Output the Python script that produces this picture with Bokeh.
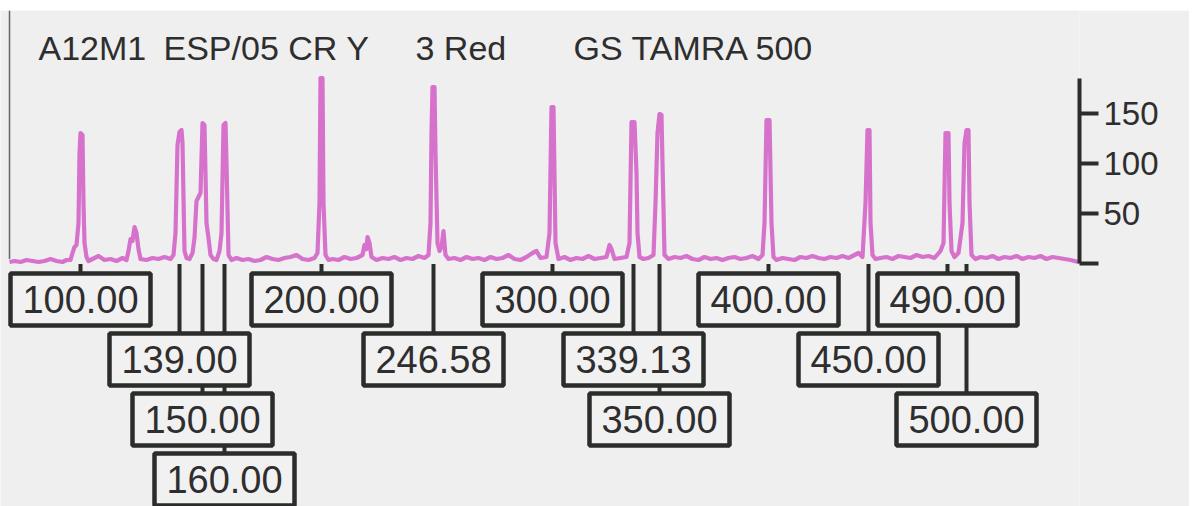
from bokeh.plotting import figure
from bokeh.models import Range1d, LinearAxis, FixedTicker, Spacer
from bokeh.layouts import column
from bokeh.core.properties import value
from bokeh.embed import file_html
from bokeh.resources import INLINE

# Red-channel trace: scan position and signal (RFU)
trace_scan = [
    9, 14, 20, 26, 32, 38, 44, 50, 56, 62, 66,
    70, 72, 74, 76, 78, 79, 80, 82, 83, 84, 86, 88,
    92, 98, 104, 110, 116, 122, 126,
    128, 130, 132, 134, 136, 138, 140,
    146, 152, 158, 164, 170, 173,
    175, 177, 179, 181, 182, 184, 186, 189, 192,
    194, 196, 198, 200, 202, 204, 206, 208, 210, 213, 216, 219,
    221, 223, 225, 226, 228, 231,
    236, 242, 248, 254, 260, 266, 272, 278, 284, 290, 296, 302, 308, 314,
    317, 319, 320, 322, 323, 325, 328,
    332, 338, 344, 350, 356, 362, 364, 366, 367, 369, 371, 376, 382, 388,
    394, 400, 406, 412, 418, 424, 428,
    430, 431, 432, 434, 435, 437, 439, 441, 443, 445, 448,
    454, 460, 466, 472, 478, 484, 490, 496, 502, 508, 514, 520, 526, 532,
    536, 540, 546,
    549, 551, 553, 555, 558,
    564, 570, 576, 582, 588, 594, 600, 606, 609, 611, 614, 620, 626,
    629, 631, 634, 636, 637, 639, 643, 648, 653,
    655, 657, 659, 661, 662, 664, 668,
    674, 680, 686, 692, 698, 704, 710, 716, 722, 728, 734, 740, 746, 752,
    758, 762,
    764, 766, 769, 771, 773, 776,
    782, 788, 794, 800, 806, 812, 818, 824, 830, 836, 842, 848, 854, 858, 862,
    865, 867, 869, 870, 872, 875,
    880, 886, 892, 898, 904, 910, 916, 922, 928, 934, 940,
    943, 945, 948, 949, 951, 954, 958,
    962, 964, 966, 968, 969, 971, 975,
    980, 986, 992, 998, 1004, 1010, 1016, 1022, 1028, 1034, 1040, 1046,
    1052, 1058, 1064, 1070, 1078,
]
trace_rfu = [
    1, 2, 1, 3, 2, 1, 2, 4, 2, 1, 3,
    3, 10, 16, 18, 40, 110, 130, 128, 60, 20, 6, 2,
    4, 7, 3, 4, 2, 5, 3,
    12, 24, 22, 36, 30, 14, 4,
    3, 5, 4, 6, 4, 8,
    30, 118, 131, 133, 120, 12, 5, 4, 10,
    25, 62, 66, 70, 140, 138, 40, 25, 8, 4, 3, 12,
    30, 138, 140, 100, 8, 3,
    5, 3, 4, 2, 3, 6, 4, 3, 5, 6, 8, 4, 3, 5,
    10, 60, 185, 185, 60, 8, 3,
    4, 3, 6, 4, 5, 8, 18, 14, 26, 20, 6, 3, 5, 4,
    6, 3, 5, 4, 7, 5, 8,
    40, 130, 176, 176, 110, 20, 12, 16, 32, 8, 4,
    5, 3, 6, 4, 5, 3, 6, 4, 5, 8, 4, 3, 6, 10,
    12, 5, 6,
    30, 156, 156, 20, 4,
    6, 3, 5, 4, 7, 4, 5, 6, 18, 14, 4, 5, 6,
    20, 141, 141, 90, 30, 6, 4, 5, 8,
    60, 130, 149, 148, 100, 8, 4,
    6, 5, 7, 4, 3, 6, 4, 5, 3, 5, 6, 4, 5, 7,
    4, 8,
    40, 143, 143, 40, 6, 3,
    5, 4, 3, 6, 5, 7, 5, 4, 6, 5, 7, 5, 8, 10, 6,
    60, 133, 133, 40, 8, 4,
    5, 6, 4, 7, 6, 5, 8, 6, 7, 5, 12,
    20, 130, 130, 60, 12, 6, 10,
    40, 120, 133, 133, 60, 8, 4,
    6, 5, 7, 4, 6, 5, 7, 4, 6, 5, 7, 4,
    6, 5, 4, 3, 1,
]

# GS TAMRA 500 size-standard calls and the scan position of each called peak
size_labels = ["100.00", "139.00", "150.00", "160.00", "200.00", "246.58",
               "300.00", "339.13", "350.00", "400.00", "450.00", "490.00", "500.00"]
size_scan = [80, 179, 202, 224, 321, 433, 552, 633, 659, 768, 868, 947, 966]

y_ticks = [0, 50, 100, 150]

title_parts = ["A12M1", "ESP/05 CR Y", "3 Red", "GS TAMRA 500"]

BG = "#efefef"
INK = "#2a2d2a"
TEXT = "#2e2e2e"
TRACE = "#d672cc"
FONT = "Liberation Sans"

p = figure(width=1189, height=496, output_backend="svg", toolbar_location=None,
           x_range=Range1d(0, 1079), y_range=Range1d(-243.5, 252.5),
           x_axis_location=None, y_axis_location=None,
           min_border_left=0, min_border_right=110, min_border_top=0,
           min_border_bottom=0, background_fill_color=BG,
           border_fill_color=BG, outline_line_color=None)
p.grid.visible = False

# signal axis on the right
yaxis = LinearAxis(ticker=FixedTicker(ticks=y_ticks), bounds=(0, 185),
                   axis_line_width=4, axis_line_color=INK,
                   major_tick_line_width=4, major_tick_line_color=INK,
                   major_tick_out=19, major_tick_in=0,
                   minor_tick_line_color=None,
                   major_label_standoff=5,
                   major_label_text_font=FONT,
                   major_label_text_font_size="33px",
                   major_label_text_color=TEXT,
                   major_label_overrides={0: ""})
p.add_layout(yaxis, "right")

# thin left margin rule
p.segment(x0=[9], y0=[4], x1=[9], y1=[252.5], line_color="#666666", line_width=1.5)

# header
title_x = [38, 163, 415, 573]
p.text(x=title_x, y=[215.5] * len(title_parts), text=title_parts,
       text_font=value(FONT), text_font_size="34px", text_color=TEXT,
       text_align="left", text_baseline="alphabetic")

# stack the size-call boxes into rows so that none overlap
box_w, box_h, row_step, gap = 140, 52, 60, 8
row_right = []
rows = []
for sx in size_scan:
    left = sx - box_w / 2
    for r, rr in enumerate(row_right):
        if left >= rr + gap:
            row_right[r] = sx + box_w / 2
            rows.append(r)
            break
    else:
        row_right.append(sx + box_w / 2)
        rows.append(len(row_right) - 1)

tops = [-10.5 - row_step * r for r in rows]
bottoms = [t - box_h for t in tops]
centers = [t - box_h / 2 for t in tops]
lefts = [sx - box_w / 2 for sx in size_scan]
rights = [sx + box_w / 2 for sx in size_scan]

# leader lines from each peak to its box
p.segment(x0=size_scan, y0=[-1] * len(size_scan), x1=size_scan, y1=tops,
          line_color=INK, line_width=4)

p.quad(left=lefts, right=rights, top=tops, bottom=bottoms,
       fill_color="#f1f1f1", line_color=INK, line_width=4.5)
p.text(x=size_scan, y=centers, text=size_labels, text_font=value(FONT),
       text_font_size="38px", text_color=TEXT, text_align="center",
       text_baseline="middle")

# trace
p.line(trace_scan, trace_rfu, line_color=TRACE, line_width=4.2, line_join="round")

layout = column(Spacer(width=1189, height=10), p)
open("out.html", "w").write(file_html(layout, INLINE))
